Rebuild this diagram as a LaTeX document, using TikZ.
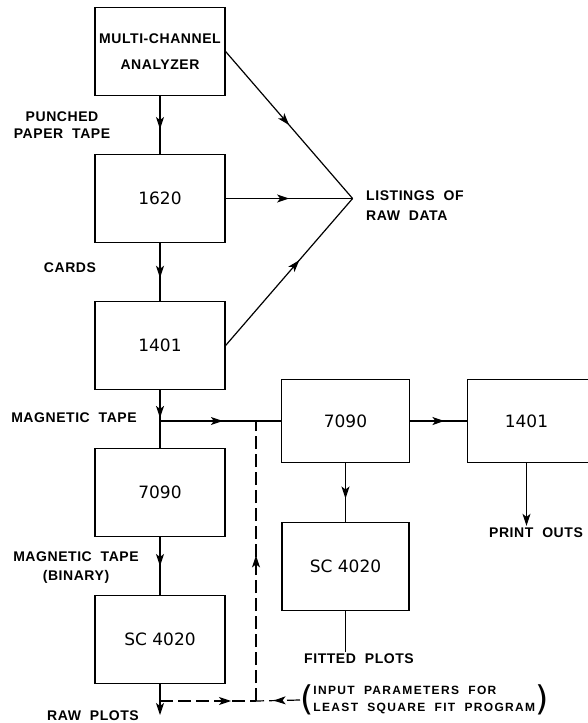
\documentclass[tikz,border=0pt]{standalone}
\usepackage{fontspec}
\usetikzlibrary{arrows.meta, positioning, decorations.markings}

\newfontfamily\letterfamily[LetterSpace=4, WordSpace=2]{Liberation Sans Bold}
\newfontfamily\widefamily[LetterSpace=11, WordSpace=2]{Liberation Sans Bold}
\newfontfamily\numfamily{DejaVu Sans}
\newcommand\lblfont{\letterfamily\fontsize{14}{17}\selectfont}
\newcommand\inpfont{\widefamily\fontsize{12}{17}\selectfont}
\newcommand\numfont{\numfamily\fontsize{17}{20}\selectfont}
\newcommand\parfont{\numfamily\fontsize{34}{34}\selectfont}

\begin{document}
\begin{tikzpicture}[
    x=1pt, y=-1pt,
    node distance=147pt,
    unit/.style={draw, line width=1.2pt, minimum width=130pt, minimum height=88pt, font=\numfont},
    lbl/.style={font=\lblfont, align=center, inner sep=2pt},
    line/.style={line width=1.2pt},
    arrow/.style={line width=1.2pt, -{Stealth[length=12pt, width=8pt, inset=3pt]}},
    midarrow/.style={line width=1.2pt, decoration={markings,
        mark=at position #1 with {\arrow[solid]{Stealth[length=12pt, width=8pt, inset=3pt]}}},
        postaction={decorate}},
    dline/.style={line width=1.2pt, dash pattern=on 13pt off 5pt}
]
\useasboundingbox (0,0) rectangle (587,723);

% main column
\node[unit, font=\lblfont, align=center] (mca) at (160,51.5) {MULTI-CHANNEL\\[9pt]ANALYZER};
\node[unit, below of=mca] (c1620) {1620};
\node[unit, below of=c1620] (c1401) {1401};
\node[unit, below of=c1401] (c7090) {7090};
\node[unit, below of=c7090] (sc) {SC 4020};

% second run
\node[unit, minimum width=128pt, minimum height=83pt] (r7090) at (345.5,421) {7090};
\node[minimum width=118pt, minimum height=83pt, font=\numfont] (r1401) at (526.5,421) {1401};
\draw[line] (r1401.north west) rectangle ++(150,83);
\node[unit, minimum width=127pt, below=59pt of r7090] (rsc) {SC 4020};

% labels
\node[lbl] (ppt) at (62,125) {PUNCHED\\PAPER TAPE};
\node[lbl] (crd) at (70,268) {CARDS};
\node[lbl] (mtl) at (74,418) {MAGNETIC TAPE};
\node[lbl, font=\letterfamily\fontsize{14}{19}\selectfont] (mtb) at (76,568) {MAGNETIC TAPE\\(BINARY)};
\node[lbl] (raw) at (93,716) {RAW PLOTS};
\node[lbl, align=left, anchor=west] (lst) at (364,206) {LISTINGS OF\\[3pt]RAW DATA};
\node[lbl] (prt) at (536,533) {PRINT OUTS};
\node[lbl] (fit) at (359,659) {FITTED PLOTS};
\node[anchor=west, inner sep=0pt] (par) at (300,700)
    {{\parfont(}\raisebox{7pt}{\inpfont\begin{tabular}{@{}l@{}}INPUT PARAMETERS FOR\\LEAST SQUARE FIT PROGRAM\end{tabular}}{\parfont)}};

\coordinate (lsp) at ([xshift=127pt]c1620.east);
\coordinate (mt) at (c1401.south |- r7090.west);
\coordinate (rp) at (160,715);
\coordinate (rj) at (160,701);
\coordinate (dj) at (256,701);
\coordinate (dt) at (dj |- mt);

% connectors
\draw[midarrow=0.57] (mca) -- (c1620);
\draw[midarrow=0.6] (c1620) -- (c1401);
\draw[midarrow=0.9] (c1401) -- (mt);
\draw[line] (mt) -- (c7090);
\draw[midarrow=0.52] (mt) -- (r7090);
\draw[midarrow=0.5] (c7090) -- (sc);
\draw[arrow] (sc) -- (rp);

\draw[midarrow=0.5] (mca.east) -- (lsp);
\draw[midarrow=0.5] (c1620) -- (lsp);
\draw[midarrow=0.58] (c1401.east) -- (lsp);

\draw[midarrow=0.6] (r7090) -- (r1401);
\draw[midarrow=0.6] (r7090) -- (rsc);
\draw[arrow] (r1401) -- (r1401.south |- prt.north);
\draw[line] (rsc) -- (rsc.south |- fit.north);

% dashed input path
\draw[dline, midarrow=0.74] (rj) -- (dj);
\draw[dline, midarrow=0.6] (par.west) -- (dj);
\draw[dline, midarrow=0.52] (dj) -- (dt);
\end{tikzpicture}
\end{document}
